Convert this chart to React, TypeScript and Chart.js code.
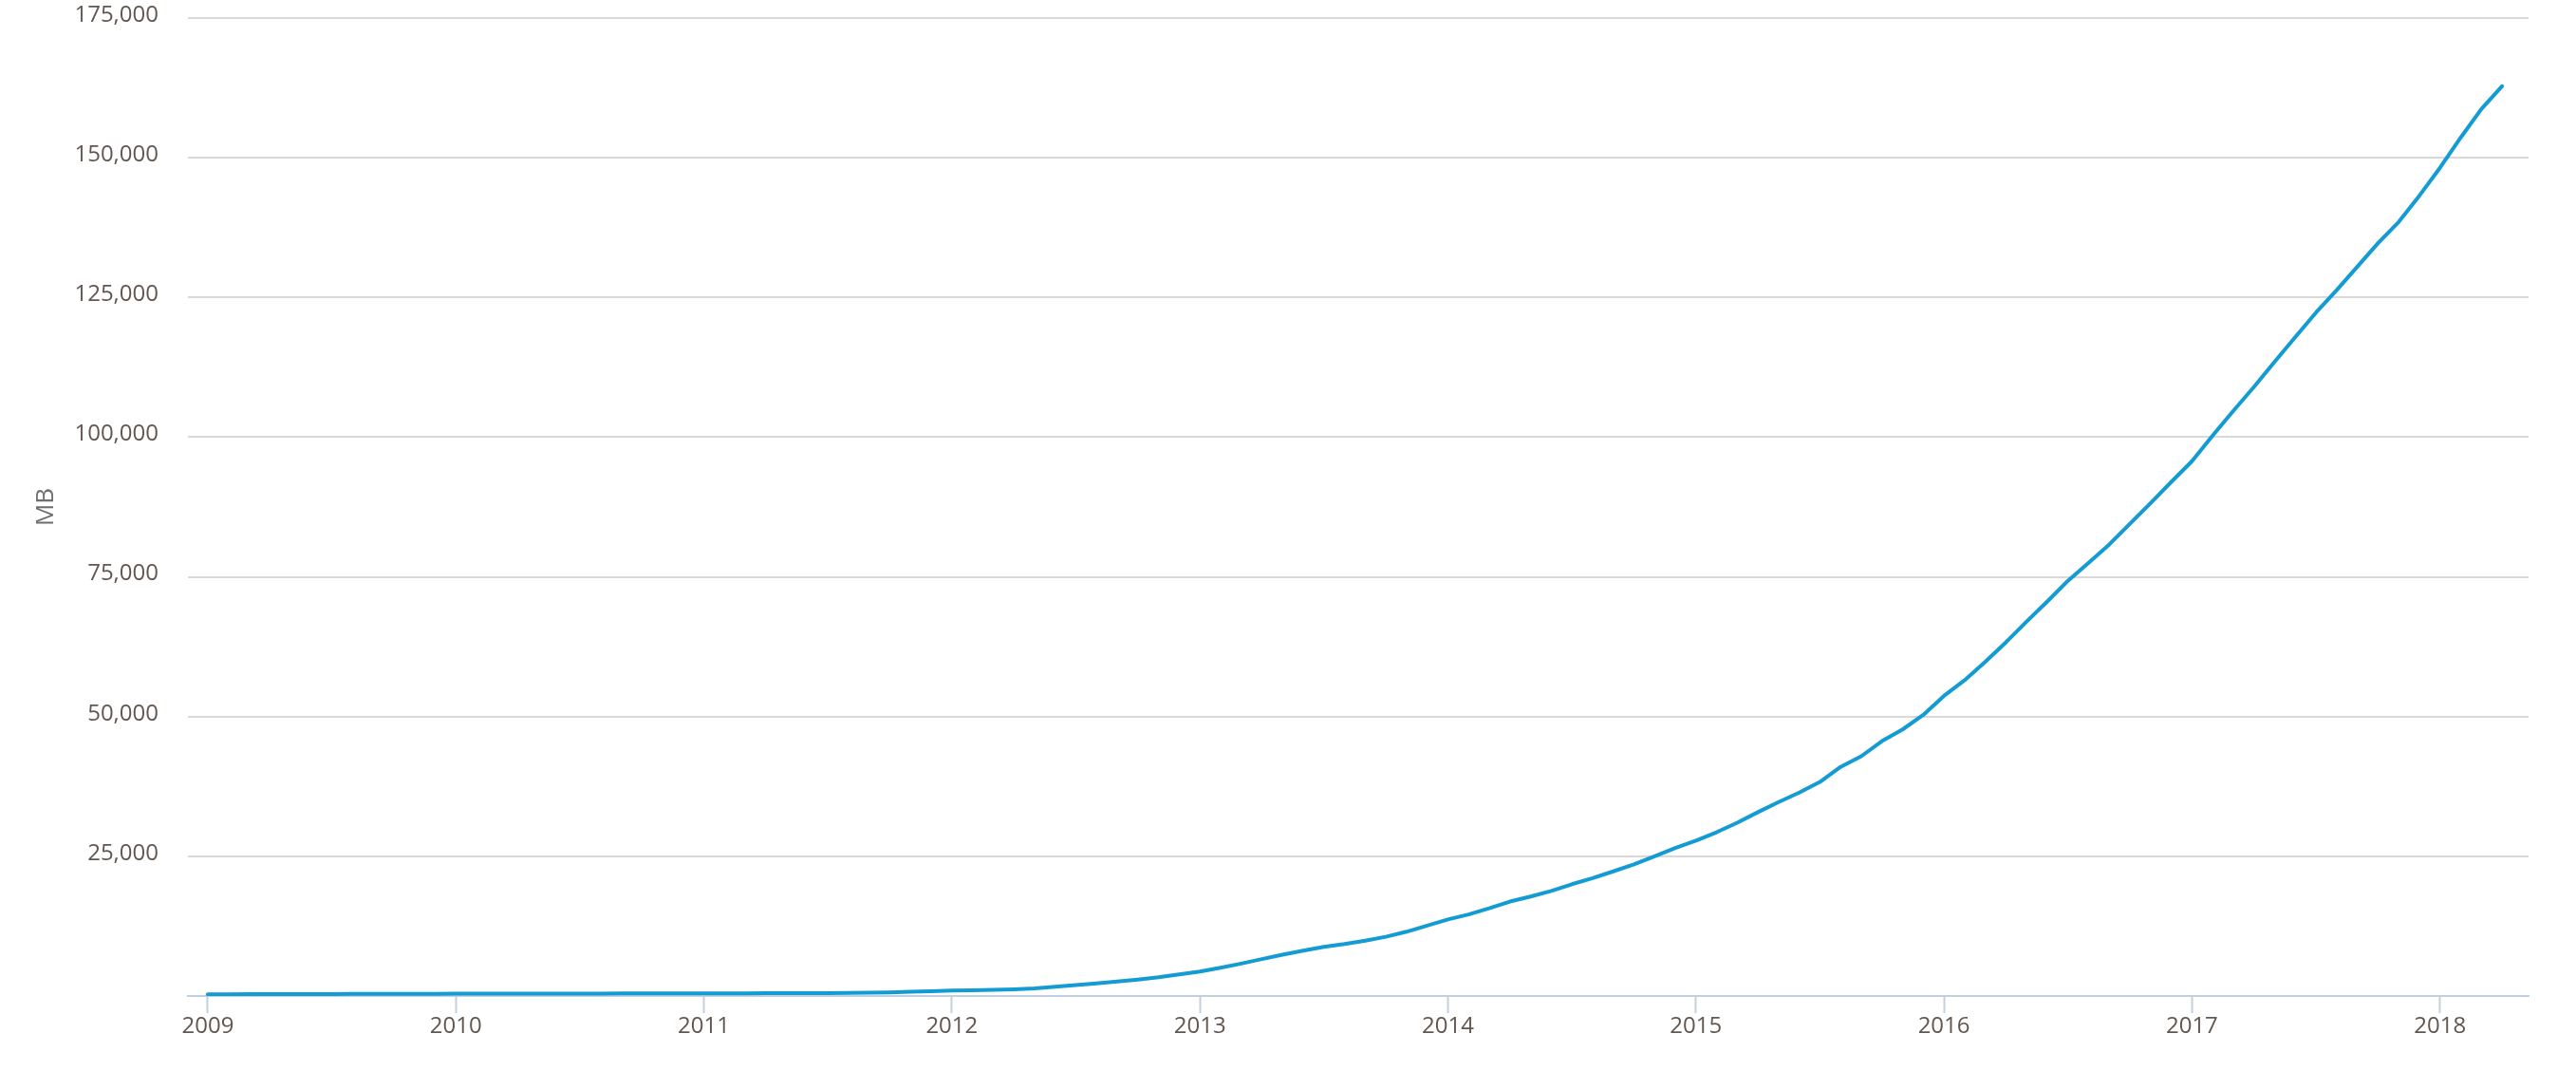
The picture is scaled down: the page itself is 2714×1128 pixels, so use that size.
import { useEffect, useRef } from "react"
import { Chart, registerables } from "chart.js"

Chart.register(...registerables)

// Monthly storage used (MB), Jan..Dec
const usage2009 = [300, 310, 320, 330, 340, 350, 360, 370, 380, 390, 400, 400]
const usage2010 = [410, 410, 420, 420, 430, 430, 440, 440, 450, 450, 460, 460]
const usage2011 = [460, 470, 480, 490, 500, 510, 530, 550, 580, 650, 750, 870]
const usage2012 = [960, 1020, 1100, 1200, 1350, 1650, 1950, 2250, 2600, 2950, 3350, 3850]
const usage2013 = [4360, 5050, 5800, 6600, 7400, 8100, 8800, 9300, 9900, 10600, 11500, 12600]
const usage2014 = [13700, 14600, 15700, 16900, 17800, 18800, 20000, 21100, 22300, 23550, 25000, 26500]
const usage2015 = [27800, 29300, 31000, 32900, 34700, 36400, 38300, 41000, 42900, 45600, 47700, 50300]
const usage2016 = [53700, 56500, 59800, 63300, 67000, 70600, 74300, 77500, 80800, 84500, 88200, 92000]
const usage2017 = [95700, 100300, 104700, 109000, 113500, 117900, 122300, 126300, 130500, 134700, 138500, 143200]
const usage2018 = [148200, 153600, 158700, 162800]

const years = [2009, 2010, 2011, 2012, 2013, 2014, 2015, 2016, 2017, 2018]
const usageByYear = [usage2009, usage2010, usage2011, usage2012, usage2013, usage2014, usage2015, usage2016, usage2017, usage2018]

const yearTicks = [2009, 2010, 2011, 2012, 2013, 2014, 2015, 2016, 2017, 2018]
const mbTicks = [0, 25000, 50000, 75000, 100000, 125000, 150000, 175000]

const FONT = "'Open Sans', 'Noto Sans', sans-serif"
const LABEL_COLOR = "#625750"

export default function App() {
  const chartRef = useRef<HTMLCanvasElement>(null)
  const chartInstance = useRef<Chart | null>(null)

  useEffect(() => {
    if (!chartRef.current) return

    const points: { x: number; y: number }[] = []
    years.forEach((year, i) => {
      usageByYear[i].forEach((v, m) => {
        points.push({ x: year + m / 12, y: v })
      })
    })

    if (chartInstance.current) {
      chartInstance.current.destroy()
    }

    const ctx = chartRef.current.getContext("2d")
    if (ctx) {
      chartInstance.current = new Chart(ctx, {
        type: "line",
        data: {
          datasets: [
            {
              label: "MB",
              data: points,
              borderColor: "#139bd3",
              borderWidth: 4,
              pointRadius: 0,
              tension: 0,
              fill: false,
              borderJoinStyle: "round",
              borderCapStyle: "round",
            },
          ],
        },
        options: {
          animation: false,
          responsive: true,
          maintainAspectRatio: false,
          layout: {
            padding: { top: 19, right: 50, left: 0, bottom: 0 },
          },
          plugins: {
            legend: { display: false },
            tooltip: { enabled: false },
          },
          scales: {
            x: {
              type: "linear",
              min: 2008.92,
              max: 2018.357,
              afterBuildTicks: (scale) => {
                scale.ticks = yearTicks.map((v) => ({ value: v }))
              },
              afterFit: (scale) => {
                scale.height = 79
                scale.paddingLeft = 0
                scale.paddingRight = 0
              },
              grid: {
                drawOnChartArea: false,
                drawTicks: true,
                tickLength: 18,
                tickWidth: 2,
                tickColor: "#c0d0e0",
              },
              border: {
                display: true,
                color: "#c0d0e0",
                width: 2,
              },
              ticks: {
                padding: 0,
                maxRotation: 0,
                autoSkip: false,
                color: LABEL_COLOR,
                font: { family: FONT, size: 24 },
                callback: (value) => String(value),
              },
            },
            y: {
              min: 0,
              max: 175000,
              afterBuildTicks: (scale) => {
                scale.ticks = mbTicks.map((v) => ({ value: v }))
              },
              afterFit: (scale) => {
                scale.width = 198
                scale.paddingTop = 0
                scale.paddingBottom = 0
              },
              grid: {
                drawTicks: false,
                lineWidth: 2,
                color: (c) => (c.tick && c.tick.value === 0 ? "rgba(0,0,0,0)" : "#d9d9d9"),
              },
              border: { display: false },
              ticks: {
                padding: 31,
                labelOffset: -3,
                color: LABEL_COLOR,
                font: { family: FONT, size: 24 },
                callback: (value) => (value === 0 ? "" : Number(value).toLocaleString("en-US")),
              },
              title: {
                display: true,
                text: "MB",
                color: "#6e6e6e",
                font: { family: FONT, size: 26 },
                padding: { top: 33, bottom: 0 },
              },
            },
          },
        },
      })
    }

    return () => {
      if (chartInstance.current) {
        chartInstance.current.destroy()
        chartInstance.current = null
      }
    }
  }, [])

  return (
    <div style={{ position: "fixed", left: 0, top: 0, width: 2714, height: 1128, background: "#fff" }}>
      <canvas ref={chartRef} />
    </div>
  )
}
